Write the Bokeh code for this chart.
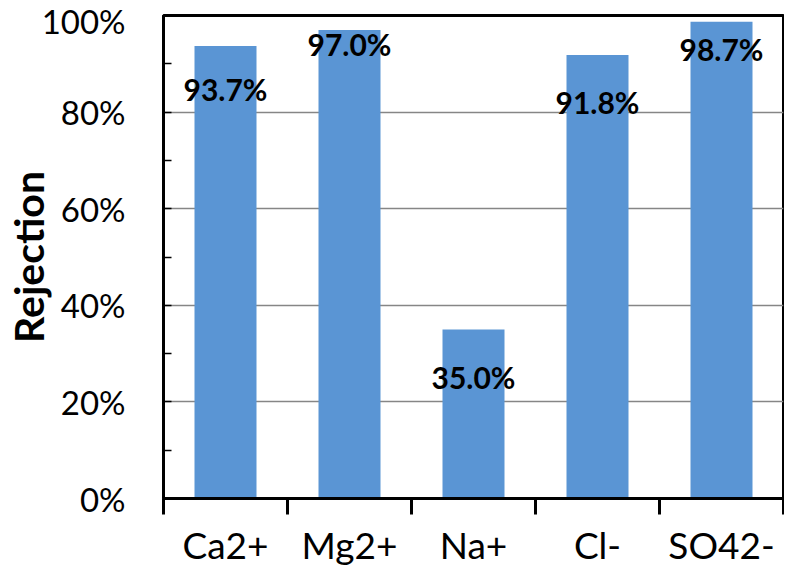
from bokeh.plotting import figure
from bokeh.models import ColumnDataSource, FixedTicker, Range1d, LabelSet
from bokeh.core.properties import value
from bokeh.embed import file_html
from bokeh.resources import INLINE

categories = ["Ca2+", "Mg2+", "Na+", "Cl-", "SO42-"]
rejection = [93.7, 97.0, 35.0, 91.8, 98.7]
label_texts = ["93.7%", "97.0%", "35.0%", "91.8%", "98.7%"]
label_pos = [84.8, 94.2, 25.1, 82.1, 93.0]
y_ticks = [0, 20, 40, 60, 80, 100]

FONT = "Lato"
xs = [i + 1 for i in range(len(categories))]
src = ColumnDataSource(dict(x=xs, top=rejection, lab=label_texts, ly=label_pos))

p = figure(width=784, height=569, output_backend="svg", toolbar_location=None,
           x_range=Range1d(0.5, 5.5), y_range=Range1d(0, 100),
           min_border_left=161, min_border_right=1, min_border_top=15, min_border_bottom=66)

p.vbar(x="x", top="top", width=0.5, bottom=0, source=src,
       fill_color="#5a95d4", line_color=None)

labels = LabelSet(x="x", y="ly", text="lab", source=src, text_align="center",
                  text_baseline="middle", text_font=value(FONT), text_font_style="bold",
                  text_font_size="30px", text_color="black")
p.add_layout(labels)

p.outline_line_color = "black"
p.outline_line_width = 3
p.background_fill_color = "white"
p.border_fill_color = "white"

# grid
p.xgrid.visible = False
p.ygrid.ticker = FixedTicker(ticks=y_ticks)
p.ygrid.grid_line_color = "#868686"
p.ygrid.grid_line_width = 1.5

# y axis
ya = p.yaxis[0]
ya.ticker = FixedTicker(ticks=y_ticks, minor_ticks=[10, 30, 50, 70, 90])
ya.major_label_overrides = {t: f"{t}%" for t in y_ticks}
ya.axis_line_width = 3
ya.axis_line_color = "black"
ya.major_tick_in = 8
ya.major_tick_out = 0
ya.minor_tick_in = 8
ya.minor_tick_out = 0
ya.major_tick_line_width = 1.5
ya.minor_tick_line_width = 1.5
ya.major_label_standoff = 38
ya.major_label_text_font = FONT
ya.major_label_text_font_size = "33px"
ya.major_label_text_color = "black"
ya.axis_label = "Rejection"
ya.axis_label_text_font = FONT
ya.axis_label_text_font_style = "bold"
ya.axis_label_text_font_size = "41px"
ya.axis_label_text_color = "black"
ya.axis_label_standoff = -14

# x axis
xa = p.xaxis[0]
xa.ticker = FixedTicker(ticks=xs, minor_ticks=[0.5 + i for i in range(len(categories) + 1)])
xa.major_label_overrides = {x: c for x, c in zip(xs, categories)}
xa.axis_line_width = 3
xa.axis_line_color = "black"
xa.major_tick_in = 0
xa.major_tick_out = 0
xa.minor_tick_in = 0
xa.minor_tick_out = 16
xa.minor_tick_line_width = 3
xa.minor_tick_line_color = "black"
xa.major_label_standoff = 7
xa.major_label_text_font = FONT
xa.major_label_text_font_size = "37px"
xa.major_label_text_color = "black"

open("out.html", "w").write(file_html(p, INLINE))
